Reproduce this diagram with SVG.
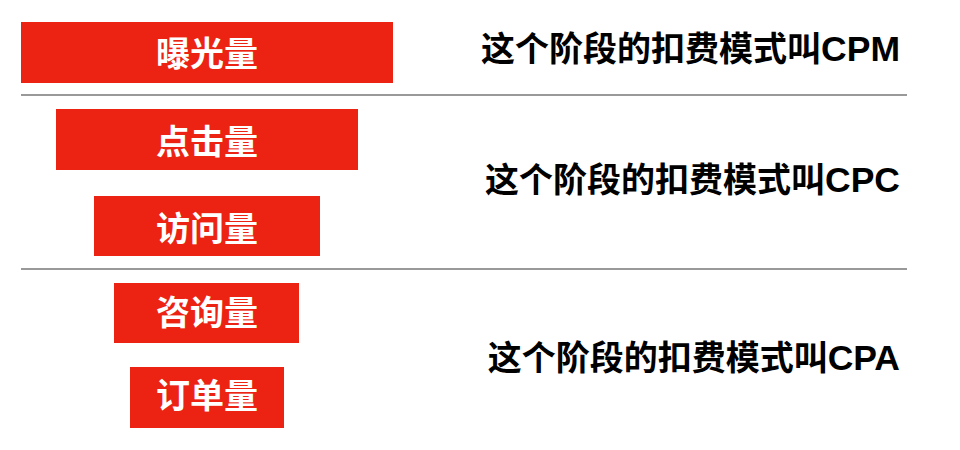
<svg xmlns="http://www.w3.org/2000/svg" width="960" height="450" viewBox="0 0 960 450">
<style>
.box{fill:#ec2312}
.bt{font-family:"Noto Sans CJK SC","Liberation Sans",sans-serif;font-size:34px;font-weight:bold;fill:#ffffff;text-anchor:middle}
.rt{font-family:"Liberation Sans","Noto Sans CJK SC",sans-serif;font-size:34px;font-weight:bold;fill:#000000;text-anchor:end}
.lat{font-size:35.5px}
.sep{stroke:#999999;stroke-width:2}
</style>
<rect width="960" height="450" fill="#ffffff"/>
<g id="separators">
<line class="sep" x1="21" y1="95" x2="907" y2="95"/>
<line class="sep" x1="21" y1="269" x2="907" y2="269"/>
</g>
<g id="node-exposure"><rect class="box" x="21" y="22" width="372" height="61"/><text class="bt" x="207" y="66">曝光量</text></g>
<g id="node-click"><rect class="box" x="56" y="109" width="302" height="61"/><text class="bt" x="207" y="154">点击量</text></g>
<g id="node-visit"><rect class="box" x="94" y="196" width="226" height="60"/><text class="bt" x="207" y="241">访问量</text></g>
<g id="node-consult"><rect class="box" x="114" y="283" width="185" height="60"/><text class="bt" x="207" y="325">咨询量</text></g>
<g id="node-order"><rect class="box" x="130" y="367" width="154" height="61"/><text class="bt" x="207" y="408">订单量</text></g>
<g id="labels">
<text class="rt" x="900" y="61">这个阶段的扣费模式叫<tspan class="lat">CPM</tspan></text>
<text class="rt" x="900" y="192">这个阶段的扣费模式叫<tspan class="lat">CPC</tspan></text>
<text class="rt" x="900" y="370">这个阶段的扣费模式叫<tspan class="lat">CPA</tspan></text>
</g>
</svg>
